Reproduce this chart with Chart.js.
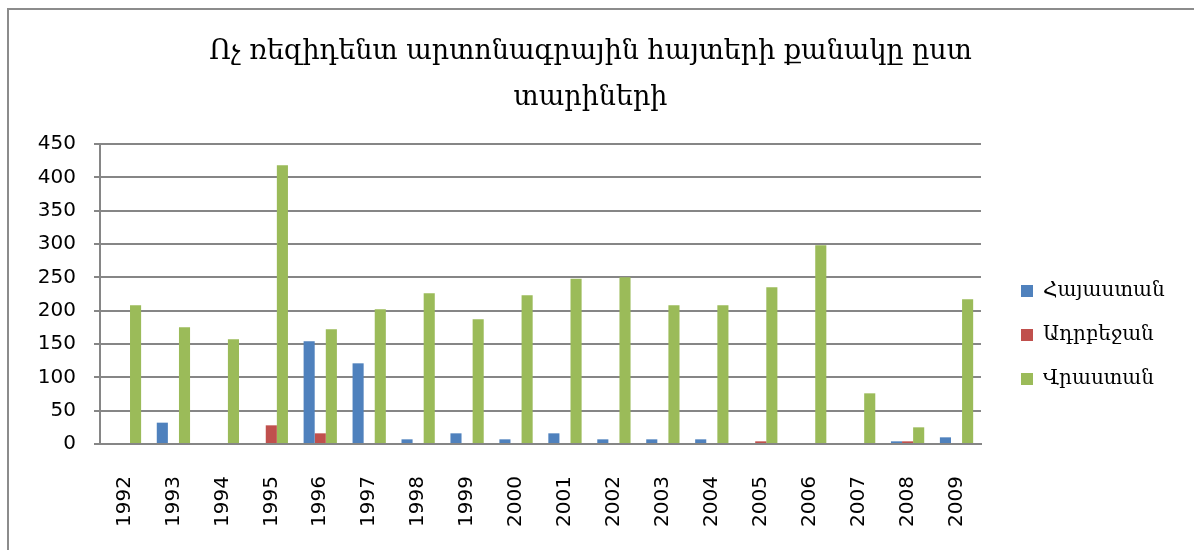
<!DOCTYPE html>
<html>
<head>
<meta charset="utf-8">
<script src="https://cdn.jsdelivr.net/npm/chart.js@4"></script>
<style>
  body { margin: 0; background: #fff; }
  #wrap { position: relative; width: 1194px; height: 550px; }
  #frame { position: absolute; left: 7px; top: 8px; width: 1200px; height: 600px;
           border-left: 2px solid #8c8c8c; border-top: 2px solid #8c8c8c; }
  canvas { position: absolute; left: 0; top: 0; }
</style>
</head>
<body>
<div id="wrap">
  <div id="frame"></div>
  <canvas id="patentChart" width="1194" height="550"></canvas>
</div>
<script>
const years = ["1992", "1993", "1994", "1995", "1996", "1997", "1998", "1999", "2000",
  "2001", "2002", "2003", "2004", "2005", "2006", "2007", "2008", "2009"];
const armenia = [0, 32, 0, 0, 154, 121, 7, 16, 7, 16, 7, 7, 7, 0, 0, 0, 4, 10];
const azerbaijan = [0, 0, 0, 28, 16, 0, 0, 0, 0, 0, 0, 0, 0, 4, 0, 0, 4, 0];
const georgia = [208, 175, 157, 418, 172, 202, 226, 187, 223, 248, 250, 208, 208, 235, 298, 76, 25, 217];
const titleLines = ["Ոչ ռեզիդենտ արտոնագրային հայտերի քանակը ըստ", "տարիների"];

// fixed legend width, and nudge the legend where Excel puts it
const legendPlace = {
  id: "legendPlace",
  beforeInit(chart) {
    const fit = chart.legend.fit;
    chart.legend.fit = function () {
      fit.bind(chart.legend)();
      this.width = 200;
    };
  },
  afterLayout(chart) {
    const lg = chart.legend;
    lg.left += 16;
    lg.right += 16;
    lg.top += 60;
    lg.bottom += 60;
  },
};

const ctx = document.getElementById("patentChart").getContext("2d");
const patentChart = new Chart(ctx, {
  type: "bar",
  data: {
    labels: years,
    datasets: [
      { label: "Հայաստան", data: armenia, backgroundColor: "#4F81BD" },
      { label: "Ադրբեջան", data: azerbaijan, backgroundColor: "#C0504D" },
      { label: "Վրաստան", data: georgia, backgroundColor: "#9BBB59" },
    ],
  },
  options: {
    responsive: false,
    animation: false,
    layout: { padding: { left: 0, right: 13, top: 0, bottom: 0 } },
    datasets: { bar: { categoryPercentage: 0.68, barPercentage: 1.0 } },
    plugins: {
      title: {
        display: true,
        text: titleLines,
        color: "#000",
        font: { family: "'DejaVu Serif', serif", size: 27, weight: "normal", lineHeight: 1.74 },
        padding: { top: 28, bottom: 22 },
      },
      legend: {
        display: true,
        position: "right",
        labels: {
          color: "#000",
          boxWidth: 12,
          boxHeight: 12,
          padding: 24,
          font: { family: "'DejaVu Serif', serif", size: 20 },
        },
      },
      tooltip: { enabled: false },
    },
    scales: {
      x: {
        grid: { display: false, drawTicks: false },
        border: { display: true, color: "#868686", width: 2 },
        ticks: {
          color: "#000",
          minRotation: 90,
          maxRotation: 90,
          padding: 32,
          font: { family: "'DejaVu Sans', sans-serif", size: 20 },
        },
        afterFit(scale) { scale.height = 106; },
      },
      y: {
        min: 0,
        max: 450,
        ticks: {
          stepSize: 50,
          color: "#000",
          padding: 18,
          font: { family: "'DejaVu Sans', sans-serif", size: 20 },
        },
        grid: { color: "#868686", lineWidth: 2, tickLength: 6 },
        border: { display: true, color: "#868686", width: 2 },
        afterFit(scale) { scale.width = 100; },
      },
    },
  },
  plugins: [legendPlace],
});
</script>
</body>
</html>
